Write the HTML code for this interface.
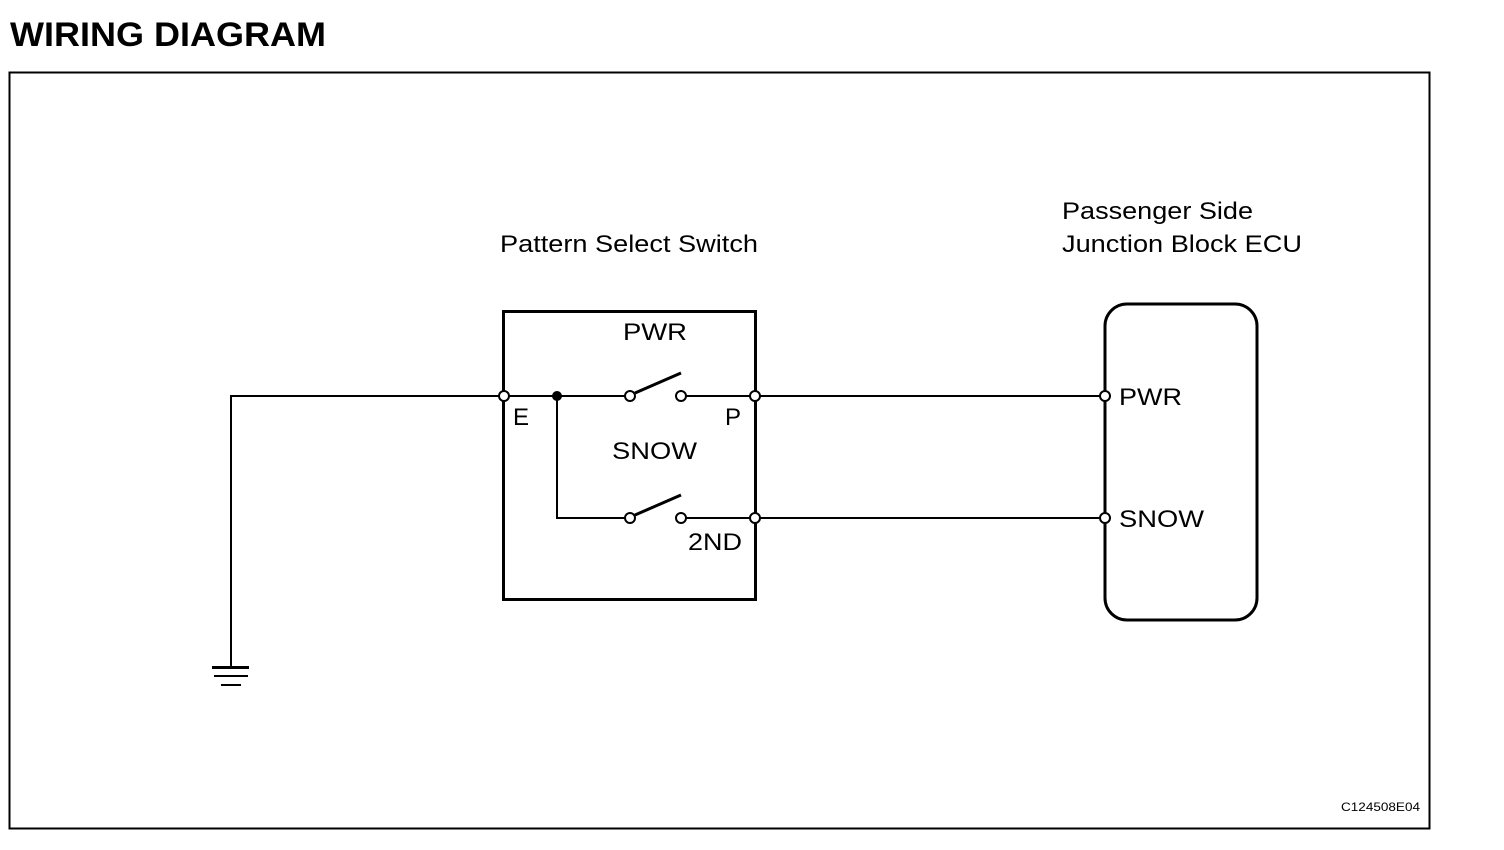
<!DOCTYPE html>
<html><head><style>
html,body{margin:0;padding:0;background:#fff;}
svg{display:block;}
text{font-family:"Liberation Sans",Arial,sans-serif;fill:#000;}
</style></head><body>
<svg width="1504" height="850" viewBox="0 0 1504 850" xmlns="http://www.w3.org/2000/svg">
<text x="10" y="46" font-size="34" font-weight="bold" textLength="316" lengthAdjust="spacingAndGlyphs">WIRING DIAGRAM</text>
<rect x="9.5" y="72.5" width="1420" height="756" fill="none" stroke="#000" stroke-width="2"/>
<text x="500" y="252" font-size="24" textLength="258" lengthAdjust="spacingAndGlyphs">Pattern Select Switch</text>
<text x="1062" y="219" font-size="24" textLength="191" lengthAdjust="spacingAndGlyphs">Passenger Side</text>
<text x="1062" y="252" font-size="24" textLength="240" lengthAdjust="spacingAndGlyphs">Junction Block ECU</text>
<rect x="503.5" y="311.5" width="252" height="288" fill="none" stroke="#000" stroke-width="3"/>
<rect x="1105" y="304" width="152" height="316" rx="22" ry="22" fill="none" stroke="#000" stroke-width="3"/>
<g stroke="#000" stroke-width="2" fill="none">
<polyline points="231,667 231,396 499,396"/>
<line x1="509" y1="396" x2="625" y2="396"/>
<line x1="686" y1="396" x2="750" y2="396"/>
<line x1="760" y1="396" x2="1100" y2="396"/>
<polyline points="557,396 557,518 625,518"/>
<line x1="686" y1="518" x2="750" y2="518"/>
<line x1="760" y1="518" x2="1100" y2="518"/>
<line x1="214" y1="676" x2="248" y2="676"/>
<line x1="221" y1="685" x2="241" y2="685"/>
</g>
<line x1="212" y1="667.5" x2="249" y2="667.5" stroke="#000" stroke-width="3"/>
<g stroke="#000" stroke-width="3">
<line x1="635" y1="393" x2="681" y2="373"/>
<line x1="635" y1="515" x2="681" y2="495"/>
</g>
<g stroke="#000" stroke-width="2" fill="#fff">
<circle cx="504" cy="396" r="5"/>
<circle cx="630" cy="396" r="5"/>
<circle cx="681" cy="396" r="5"/>
<circle cx="755" cy="396" r="5"/>
<circle cx="630" cy="518" r="5"/>
<circle cx="681" cy="518" r="5"/>
<circle cx="755" cy="518" r="5"/>
<circle cx="1105" cy="396" r="5"/>
<circle cx="1105" cy="518" r="5"/>
</g>
<circle cx="557" cy="396" r="5" fill="#000"/>
<text x="623" y="340" font-size="24" textLength="64" lengthAdjust="spacingAndGlyphs">PWR</text>
<text x="513" y="425" font-size="24">E</text>
<text x="725" y="425" font-size="24">P</text>
<text x="612" y="459" font-size="24" textLength="85" lengthAdjust="spacingAndGlyphs">SNOW</text>
<text x="688" y="550" font-size="24" textLength="54" lengthAdjust="spacingAndGlyphs">2ND</text>
<text x="1119" y="405" font-size="24" textLength="63" lengthAdjust="spacingAndGlyphs">PWR</text>
<text x="1119" y="527" font-size="24" textLength="85" lengthAdjust="spacingAndGlyphs">SNOW</text>
<text x="1341" y="811" font-size="12" textLength="79" lengthAdjust="spacingAndGlyphs">C124508E04</text>
</svg>
</body></html>
